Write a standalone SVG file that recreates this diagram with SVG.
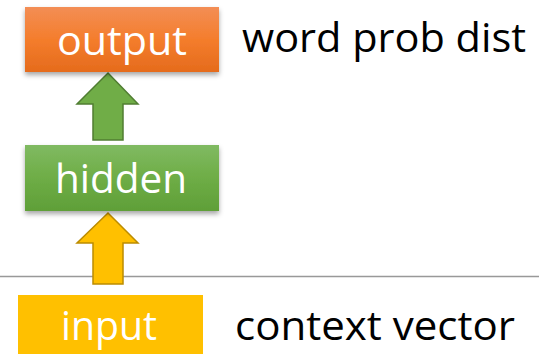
<svg xmlns="http://www.w3.org/2000/svg" width="539" height="354" viewBox="0 0 539 354">
<style>
.lbl{font-family:"Open Sans","Liberation Sans",sans-serif;font-size:41px;fill:#fff;text-anchor:middle}
.side{font-family:"Open Sans","Liberation Sans",sans-serif;font-size:41px;fill:#000}
</style>
<defs>
<linearGradient id="gOut" x1="0" y1="0" x2="0" y2="1"><stop offset="0" stop-color="#F38E55"/><stop offset="0.5" stop-color="#F47D2C"/><stop offset="1" stop-color="#E56B1C"/></linearGradient>
<linearGradient id="gHid" x1="0" y1="0" x2="0" y2="1"><stop offset="0" stop-color="#80BA62"/><stop offset="0.5" stop-color="#6EAD46"/><stop offset="1" stop-color="#5F9F38"/></linearGradient>
<filter id="sh" x="-10%" y="-10%" width="120%" height="140%"><feDropShadow dx="0" dy="3" stdDeviation="2.5" flood-color="#000" flood-opacity="0.35"/></filter>
</defs>
<line x1="0" y1="276.5" x2="539" y2="276.5" stroke="#999" stroke-width="1.5"/>
<g id="connectors">
<polygon points="108,73 138,104 123,104 123,140 93,140 93,104 77,104" fill="#70AD47" stroke="#507E32" stroke-width="1.5"/>
<polygon points="108,213 138,243 123,243 123,284 93,284 93,243 77,243" fill="#FFC000" stroke="#BC8C00" stroke-width="1.5"/>
</g>
<g id="output">
<rect x="25" y="7" width="194" height="65" fill="url(#gOut)" filter="url(#sh)"/>
<text class="lbl" x="122" y="55" textLength="130" lengthAdjust="spacingAndGlyphs">output</text>
</g>
<g id="hidden">
<rect x="25" y="145" width="194" height="66" fill="url(#gHid)" filter="url(#sh)"/>
<text class="lbl" x="121" y="193" textLength="132" lengthAdjust="spacingAndGlyphs">hidden</text>
</g>
<g id="input">
<rect x="18" y="295" width="185" height="60" fill="#FFC000"/>
<text class="lbl" x="109" y="340" textLength="96" lengthAdjust="spacingAndGlyphs">input</text>
</g>
<text class="side" x="242" y="52" textLength="284" lengthAdjust="spacingAndGlyphs">word prob dist</text>
<text class="side" x="235" y="340" textLength="280" lengthAdjust="spacingAndGlyphs">context vector</text>
</svg>
